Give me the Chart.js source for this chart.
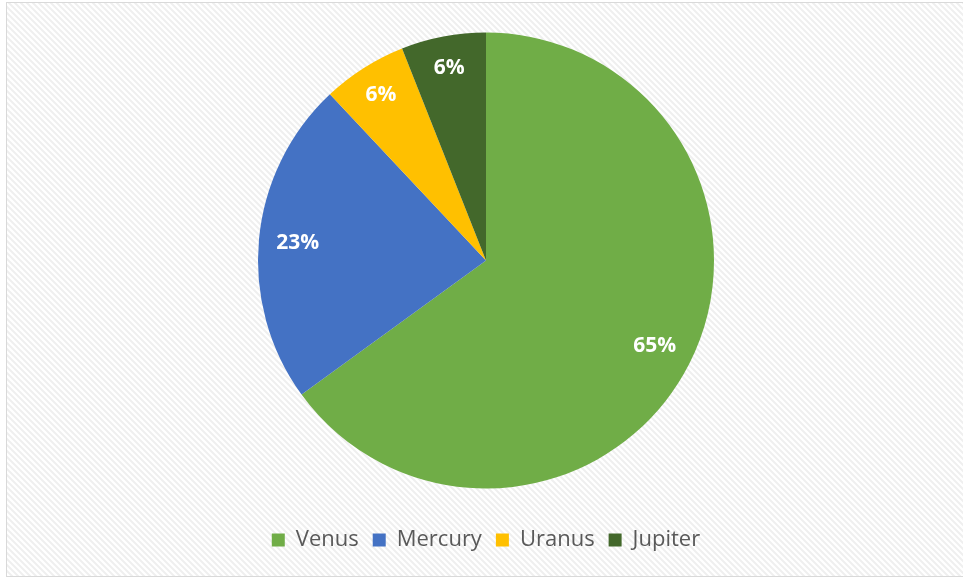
<!DOCTYPE html>
<html>
<head>
<meta charset="utf-8">
<style>
  html, body { margin: 0; padding: 0; background: #fff; }
  canvas { display: block; }
</style>
<script src="https://cdn.jsdelivr.net/npm/chart.js@4/dist/chart.umd.min.js"></script>
</head>
<body>
<canvas id="pieChart" width="963" height="578"></canvas>
<script>
const planets = ["Venus", "Mercury", "Uranus", "Jupiter"];
const shares = [65, 23, 6, 6];
const sliceColors = ["#70AD47", "#4472C4", "#FFC000", "#43682B"];

// faint diagonal hatch used as the chart background
function makeHatch() {
    const tile = document.createElement("canvas");
    tile.width = 6;
    tile.height = 6;
    const t = tile.getContext("2d");
    t.fillStyle = "#ffffff";
    t.fillRect(0, 0, 6, 6);
    t.strokeStyle = "#efefef";
    t.lineWidth = 2;
    t.beginPath();
    t.moveTo(-1, -1); t.lineTo(7, 7);
    t.moveTo(-4, 2); t.lineTo(4, 10);
    t.moveTo(2, -4); t.lineTo(10, 4);
    t.stroke();
    return tile;
}

const backdrop = {
    id: "backdrop",
    beforeDraw(chart) {
        const ctx = chart.ctx;
        ctx.save();
        ctx.fillStyle = "#ffffff";
        ctx.fillRect(0, 0, chart.width, chart.height);
        ctx.fillStyle = ctx.createPattern(makeHatch(), "repeat");
        ctx.fillRect(7, 3, chart.width - 7, chart.height - 5);
        ctx.strokeStyle = "#d9d9d9";
        ctx.lineWidth = 1;
        ctx.strokeRect(6.5, 2.5, chart.width, chart.height - 4);
        ctx.restore();
    }
};

// percentage labels inside each slice
const sliceLabels = {
    id: "sliceLabels",
    afterDatasetsDraw(chart) {
        const ctx = chart.ctx;
        const meta = chart.getDatasetMeta(0);
        ctx.save();
        ctx.fillStyle = "#ffffff";
        ctx.font = "bold 21px 'Open Sans'";
        ctx.textAlign = "center";
        ctx.textBaseline = "middle";
        meta.data.forEach((arc, i) => {
            const p = arc.getProps(["x", "y", "startAngle", "endAngle", "outerRadius"], true);
            const mid = (p.startAngle + p.endAngle) / 2;
            const r = p.outerRadius * (i < 2 ? 0.83 : 0.86);
            ctx.fillText(shares[i] + "%", p.x + Math.cos(mid) * r, p.y + Math.sin(mid) * r);
        });
        ctx.restore();
    }
};

new Chart(document.getElementById("pieChart").getContext("2d"), {
    type: "pie",
    data: {
        labels: planets,
        datasets: [{
            data: shares,
            backgroundColor: sliceColors,
            borderWidth: 0
        }]
    },
    options: {
        responsive: false,
        animation: false,
        radius: 228,
        layout: { padding: { top: 6, left: 20, right: 11, bottom: 17 } },
        plugins: {
            legend: {
                position: "bottom",
                labels: {
                    boxWidth: 13,
                    boxHeight: 13,
                    padding: 14,
                    color: "#595959",
                    font: { family: "'Open Sans'", size: 22 }
                }
            },
            tooltip: { enabled: false }
        }
    },
    plugins: [backdrop, sliceLabels]
});
</script>
</body>
</html>
